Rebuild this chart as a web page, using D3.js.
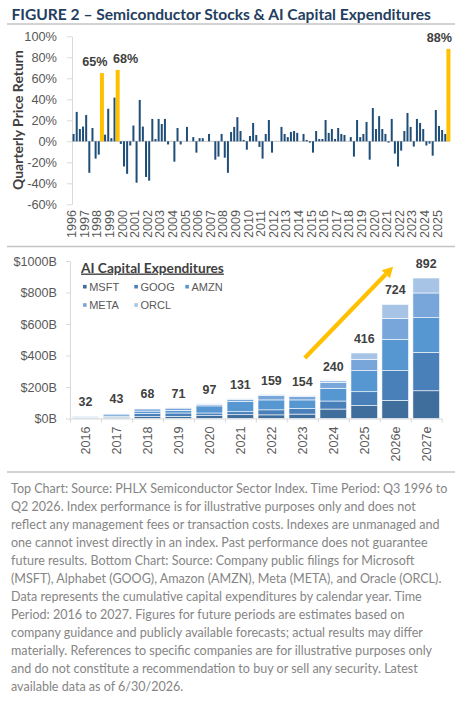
<!DOCTYPE html>
<html>
<head>
<meta charset="utf-8">
<script src="https://cdn.jsdelivr.net/npm/d3@7"></script>
<style>
body { margin: 0; background: #fff; }
svg text { font-family: "Liberation Sans", Arial, sans-serif; }
.calibri { font-family: Lato, "Open Sans", sans-serif !important; }
</style>
</head>
<body>
<svg id="chart" width="458" height="702"></svg>
<script>
// ---- top chart: PHLX semiconductor index, quarterly returns Q3 1996 .. Q2 2026 (%)
const quarterlyReturns = [
    7, 28, 11.7, 14, 25, -30, 12.7, -16.5, -12.7, 65,
    6.3, 31, 3, 41.6, 68, -2.5, -24, -31, -4, 15,
    -39.4, 39.4, 14, -34, -37.5, 21.3, 2.2, 21.3, 16.5, 21.3,
    -3, 0, -19.4, 12.7, -3, 0, 13.7, 0, 4, -10.8,
    3, 3, 0, 7, 0, -17.5, -14.6, 7, -15.6, -30,
    8.9, 13.7, 23, 9.8, 1.3, -8, 5, 17.5, 6, -5.4,
    -16.5, 7, 20.3, -10.8, 0, 0, 13.7, 7, 4, 8.9,
    9.8, 8, 0, 7, 1.3, -1.3, -10.8, 9.8, 2.2, 2.2,
    20.3, 8, 11.7, 2.2, 12.7, 7, 6, 0, 4, -14.6,
    20.3, 4, 7, 18.4, -17.5, 31.7, 11.7, 24, 11.7, 7,
    -1.3, 21.3, -11.7, -24, -8.9, 9.8, 27, 13.7, -5, 21.3,
    17.5, 11.7, -4, -2.2, -13.7, 29.8, 14.6, 10.8, 7, 88
];
const highlightQuarters = [9, 14, 119];
const yearLabels = ["1996","1997","1998","1999","2000","2001","2002","2003","2004","2005",
    "2006","2007","2008","2009","2010","2011","2012","2013","2014","2015",
    "2016","2017","2018","2019","2020","2021","2022","2023","2024","2025"];
const topTicks = [-60, -40, -20, 0, 20, 40, 60, 80, 100];

// ---- bottom chart: capex by company ($B)
const capexYears = ["2016","2017","2018","2019","2020","2021","2022","2023","2024","2025","2026e","2027e"];
const companies = ["MSFT", "GOOG", "AMZN", "META", "ORCL"];
const msft = [4, 6, 12, 13, 18, 24, 23, 28, 60, 82, 115, 176];
const goog = [5, 7, 20, 22, 17, 19, 32, 35, 51, 88, 189, 243];
const amzn = [5, 10, 15, 17, 45, 65, 63, 55, 81, 134, 199, 221];
const meta = [3, 7, 14, 14, 10, 14, 28, 22, 36, 72, 133, 157];
const orcl = [1, 3, 4, 3, 4, 4, 6, 5, 12, 40, 88, 95];
const totalLabels = [32, 43, 68, 71, 97, 131, 159, 154, 240, 416, 724, 892];
const bottomTicks = [0, 200, 400, 600, 800, 1000];

const colors = {MSFT: "#3f6d9c", GOOG: "#4a80b9", AMZN: "#5696d1", META: "#78a6da", ORCL: "#a7c4e7"};
const navy = "#1f4e79", gold = "#ffc000", axisGrey = "#d9d9d9", tickText = "#595959";

const svg = d3.select("#chart");

function fitWidth(sel, target){
    const w = sel.node().getComputedTextLength();
    const fs = parseFloat(sel.style("font-size"));
    sel.style("font-size", (fs * target / w) + "px");
    return fs * target / w;
}

/* ------- TITLE + SEPARATORS -------*/
let title = svg.append("text")
    .attr("class", "calibri")
    .attr("x", 11.5).attr("y", 19.5)
    .style("font-weight", "bold").style("font-size", "17px")
    .attr("fill", "#243e5f")
    .text("FIGURE 2 \u2013 Semiconductor Stocks & AI Capital Expenditures");
fitWidth(title, 420);

[24, 246.5, 472].forEach(function(y){
    svg.append("line")
        .attr("x1", 7).attr("x2", 455).attr("y1", y).attr("y2", y)
        .attr("stroke", "#c4c4c4").attr("stroke-width", 1.4);
});

/* ------- TOP CHART -------*/
let xTop = d3.scaleBand()
    .domain(d3.range(quarterlyReturns.length))
    .range([72, 450])
    .paddingInner(0.365)
    .paddingOuter(0.18);
let yTop = d3.scaleLinear().domain([-60, 100]).range([204.3, 36.3]);

let topAxis = svg.append("g")
    .attr("transform", "translate(72,0)")
    .call(d3.axisLeft(yTop).tickValues(topTicks).tickFormat(d => d + "%").tickSize(5).tickPadding(10).tickSizeOuter(0));
topAxis.select(".domain").attr("stroke", axisGrey);
topAxis.selectAll(".tick line").attr("stroke", axisGrey);
topAxis.selectAll(".tick text").attr("fill", tickText).style("font-size", "12.8px")
    .style("font-family", "Liberation Sans, Arial, sans-serif");

svg.append("line")
    .attr("x1", 72).attr("x2", 450)
    .attr("y1", yTop(0)).attr("y2", yTop(0))
    .attr("stroke", "#d0d0d0").attr("stroke-width", 1.3);

let topData = quarterlyReturns.map((v, i) => ({i: i, v: v, hi: highlightQuarters.includes(i)}));

svg.append("g").selectAll("rect")
    .data(topData.filter(d => !d.hi))
    .enter().append("rect")
    .attr("x", d => xTop(d.i))
    .attr("width", xTop.bandwidth())
    .attr("y", d => yTop(Math.max(0, d.v)))
    .attr("height", d => Math.abs(yTop(d.v) - yTop(0)))
    .attr("fill", navy);

let hiWidth = 4;
svg.append("g").selectAll("rect")
    .data(topData.filter(d => d.hi))
    .enter().append("rect")
    .attr("x", d => xTop(d.i) + xTop.bandwidth() / 2 - hiWidth / 2)
    .attr("width", hiWidth)
    .attr("y", d => yTop(d.v))
    .attr("height", d => yTop(0) - yTop(d.v))
    .attr("fill", gold);

let labelNudge = [-7, 8, -9];
svg.append("g").selectAll("text")
    .data(topData.filter(d => d.hi))
    .enter().append("text")
    .attr("x", (d, k) => xTop(d.i) + xTop.bandwidth() / 2 + labelNudge[k])
    .attr("y", d => yTop(d.v) - 7)
    .attr("text-anchor", "middle")
    .style("font-weight", "bold").style("font-size", "12.6px")
    .attr("fill", "#404040")
    .text(d => Math.round(d.v) + "%");

svg.append("g").selectAll("text")
    .data(yearLabels)
    .enter().append("text")
    .attr("transform", (d, j) => "translate(" + (xTop(j * 4) - 0.8) + ",210) rotate(-90)")
    .attr("dy", "0.35em")
    .attr("text-anchor", "end")
    .style("font-size", "12.6px")
    .attr("fill", tickText)
    .text(d => d);

let yTitle = svg.append("text")
    .attr("class", "calibri")
    .attr("transform", "translate(18,120) rotate(-90)")
    .attr("dy", "0.35em")
    .attr("text-anchor", "middle")
    .style("font-weight", "bold").style("font-size", "14px")
    .attr("fill", "#404040")
    .text("Quarterly Price Return");
fitWidth(yTitle, 140);

/* ------- BOTTOM CHART -------*/
let xBot = d3.scaleBand().domain(capexYears).range([70, 441.7]).paddingInner(0.14).paddingOuter(0.07);
let xIdx = d3.scaleLinear().domain([0, capexYears.length]).range([70, 441.7]);
let yBot = d3.scaleLinear().domain([0, 1000]).range([418.5, 261]);

let botAxis = svg.append("g")
    .attr("transform", "translate(70,0)")
    .call(d3.axisLeft(yBot).tickValues(bottomTicks).tickFormat(d => "$" + d + "B").tickSize(4).tickPadding(9).tickSizeOuter(0));
botAxis.select(".domain").attr("stroke", axisGrey);
botAxis.selectAll(".tick line").attr("stroke", axisGrey);
botAxis.selectAll(".tick text").attr("fill", tickText).style("font-size", "12.6px")
    .style("font-family", "Liberation Sans, Arial, sans-serif");

let baseAxis = svg.append("g")
    .attr("transform", "translate(0," + yBot(0) + ")")
    .call(d3.axisBottom(xIdx).tickValues(d3.range(capexYears.length + 1)).tickFormat("").tickSize(4).tickSizeOuter(0));
baseAxis.select(".domain").attr("stroke", axisGrey);
baseAxis.selectAll(".tick line").attr("stroke", axisGrey);

let table = capexYears.map((y, i) => ({year: y, MSFT: msft[i], GOOG: goog[i], AMZN: amzn[i], META: meta[i], ORCL: orcl[i]}));
let stacked = d3.stack().keys(companies)(table);

svg.append("g").selectAll("g")
    .data(stacked)
    .enter().append("g")
    .attr("fill", d => colors[d.key])
    .selectAll("rect")
    .data(d => d)
    .enter().append("rect")
    .attr("x", d => xBot(d.data.year))
    .attr("width", xBot.bandwidth())
    .attr("y", d => yBot(d[1]))
    .attr("height", d => yBot(d[0]) - yBot(d[1]))
    .attr("stroke", "#fff")
    .attr("stroke-width", 0.6);

svg.append("g").selectAll("text")
    .data(table)
    .enter().append("text")
    .attr("x", d => xBot(d.year) + xBot.bandwidth() / 2)
    .attr("y", d => yBot(d.MSFT + d.GOOG + d.AMZN + d.META + d.ORCL) - 10)
    .attr("text-anchor", "middle")
    .style("font-weight", "bold").style("font-size", "12.4px")
    .attr("fill", "#404040")
    .text((d, i) => totalLabels[i]);

svg.append("g").selectAll("text")
    .data(capexYears)
    .enter().append("text")
    .attr("transform", d => "translate(" + (xBot(d) + xBot.bandwidth() / 2) + ",426.5) rotate(-90)")
    .attr("dy", "0.35em")
    .attr("text-anchor", "end")
    .style("font-size", "12.6px")
    .attr("fill", tickText)
    .text(d => d);

/* ------- LEGEND -------*/
let legTitle = svg.append("text")
    .attr("class", "calibri")
    .attr("x", 81).attr("y", 272.5)
    .style("font-weight", "bold").style("font-size", "14px")
    .style("text-decoration", "underline")
    .attr("fill", "#404040")
    .text("AI Capital Expenditures");
fitWidth(legTitle, 143);

let legPos = [[83, 286.7], [134.3, 286.7], [185.3, 286.7], [83, 305], [134.3, 305]];
let leg = svg.append("g").selectAll("g")
    .data(companies)
    .enter().append("g")
    .attr("transform", (d, i) => "translate(" + legPos[i][0] + "," + legPos[i][1] + ")");
leg.append("rect")
    .attr("x", 0).attr("y", -1.8).attr("width", 3.6).attr("height", 3.6)
    .attr("fill", d => colors[d]);
leg.append("text")
    .attr("x", 6.2).attr("y", 4)
    .style("font-size", "11px")
    .attr("fill", tickText)
    .text(d => d);

/* ------- ARROW -------*/
let arrowFrom = [7.58, 384], arrowTo = [10.43, 964];
let ax1 = xIdx(arrowFrom[0]), ay1 = yBot(arrowFrom[1]);
let ax2 = xIdx(arrowTo[0]), ay2 = yBot(arrowTo[1]);
let ang = Math.atan2(ay2 - ay1, ax2 - ax1);
let headLen = 10.5, headHalf = 5.8;
let bx = ax2 - headLen * Math.cos(ang), by = ay2 - headLen * Math.sin(ang);
svg.append("line")
    .attr("x1", ax1).attr("y1", ay1).attr("x2", bx).attr("y2", by)
    .attr("stroke", gold).attr("stroke-width", 4.2);
svg.append("polygon")
    .attr("points", [
        [ax2, ay2],
        [bx + headHalf * Math.sin(ang), by - headHalf * Math.cos(ang)],
        [bx - headHalf * Math.sin(ang), by + headHalf * Math.cos(ang)]
    ].map(p => p.join(",")).join(" "))
    .attr("fill", gold);

/* ------- FOOTNOTE -------*/
const footLines = [
    "Top Chart: Source: PHLX Semiconductor Sector Index. Time Period: Q3 1996 to",
    "Q2 2026. Index performance is for illustrative purposes only and does not",
    "reflect any management fees or transaction costs. Indexes are unmanaged and",
    "one cannot invest directly in an index. Past performance does not guarantee",
    "future results. Bottom Chart: Source: Company public filings for Microsoft",
    "(MSFT), Alphabet (GOOG), Amazon (AMZN), Meta (META), and Oracle (ORCL).",
    "Data represents the cumulative capital expenditures by calendar year. Time",
    "Period: 2016 to 2027. Figures for future periods are estimates based on",
    "company guidance and publicly available forecasts; actual results may differ",
    "materially. References to specific companies are for illustrative purposes only",
    "and do not constitute a recommendation to buy or sell any security. Latest",
    "available data as of 6/30/2026."
];
let foot = svg.append("g").selectAll("text")
    .data(footLines)
    .enter().append("text")
    .attr("class", "calibri")
    .attr("x", 11)
    .attr("y", (d, i) => 492.7 + i * 18)
    .style("font-size", "13px")
    .attr("fill", "#858585")
    .text(d => d);
let fs = fitWidth(d3.select(foot.nodes()[0]), 437);
foot.style("font-size", fs + "px");
</script>
</body>
</html>
